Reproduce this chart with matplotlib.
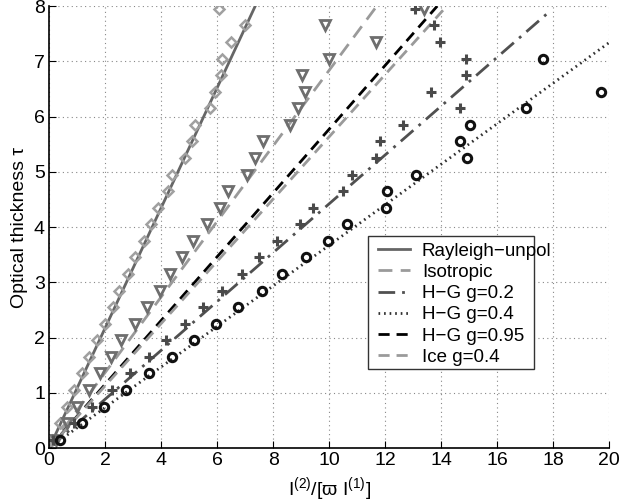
import numpy as np
from matplotlib import pyplot as plt
from matplotlib.patches import Rectangle

plt.rcParams['font.family'] = ['Liberation Sans', 'DejaVu Sans']
plt.rcParams['mathtext.default'] = 'regular'

# optical thickness values where markers were sampled
tau = [0.15, 0.45, 0.75, 1.05, 1.35, 1.65, 1.95, 2.25, 2.55, 2.85, 3.15, 3.45, 3.75,
       4.05, 4.35, 4.65, 4.95, 5.25, 5.55, 5.85, 6.15, 6.45, 6.75, 7.05, 7.35, 7.65, 7.95]

ray_x = [0.10, 0.37, 0.63, 0.90, 1.17, 1.44, 1.70, 2.00, 2.27, 2.51, 2.81, 3.07, 3.37,
         3.64, 3.88, 4.24, 4.40, 4.86, 5.10, 5.21, 5.75, 5.93, 6.13, 6.17, 6.49, 7.00, 6.08]
iso_x = [0.25, 0.62, 1.00, 1.42, 1.82, 2.22, 2.58, 3.07, 3.49, 3.96, 4.32, 4.76, 5.15,
         5.63, 6.11, 6.40, 7.06, 7.36, 7.65, 8.61, 8.88, 9.14, 9.02, 9.98, 11.68, 9.86, 13.39]
hg2_x = [0.15, 0.87, 1.52, 2.24, 2.89, 3.55, 4.17, 4.86, 5.51, 6.17, 6.88, 7.48, 8.13,
         8.96, 9.44, 10.51, 10.81, 11.68, 11.80, 12.65, 14.68, 13.64, 14.88, 14.88, 13.96, 13.76, 13.07]
# H-G g=0.4 circles (last few fall outside the plot)
tau_c = [0.15, 0.45, 0.75, 1.05, 1.35, 1.65, 1.95, 2.25, 2.55, 2.85, 3.15, 3.45, 3.75,
         4.05, 4.35, 4.65, 4.95, 5.25, 5.55, 5.85, 6.15, 6.45, 7.05]
hg4_x = [0.37, 1.17, 1.96, 2.75, 3.58, 4.40, 5.19, 5.96, 6.76, 7.60, 8.31, 9.18, 9.95,
         10.65, 12.04, 12.08, 13.10, 14.92, 14.68, 15.04, 17.04, 19.71, 17.62]

# fitted lines (x end, tau end), all from origin
fit_names = ['Rayleigh\u2212unpol', 'Isotropic', 'H\u2212G g=0.2', 'H\u2212G g=0.4', 'H\u2212G g=0.95', 'Ice g=0.4']
fit_xend = [7.36, 11.7, 17.8, 21.8, 13.86, 14.2]
fit_tend = [8.0, 8.0, 7.87, 8.0, 8.0, 8.0]

styles = [dict(color='#666666', ls='-'),
          dict(color='#9a9a9a', ls=(0, (5, 3))),
          dict(color='#505050', ls=(0, (6, 2.5, 1, 2.5))),
          dict(color='#303030', ls=(0, (0.6, 1.4))),
          dict(color='black', ls=(0, (4, 2.5))),
          dict(color='#9a9a9a', ls=(0, (4, 2.5)))]

fig = plt.figure(figsize=(6.3, 5.04), dpi=100)
ax = fig.add_axes([0.078, 0.111, 0.889, 0.877])

for name, xe, te, st in zip(fit_names, fit_xend, fit_tend, styles):
    ax.plot([0, xe], [0, te], lw=2, label=name, **st)

ax.plot(ray_x, tau, 'D', ms=5, mfc='none', mec='#a0a0a0', mew=1.8)
ax.plot(iso_x, tau, 'v', ms=6.5, mfc='none', mec='#6e6e6e', mew=2)
ax.plot(hg2_x, tau, '+', ms=7, mec='#4a4a4a', mew=2.2)
ax.plot(hg4_x, tau_c, 'o', ms=6, mfc='none', mec='#111111', mew=2.2)

ax.set_xlim(0, 20)
ax.set_ylim(0, 8)
ax.set_xticks(np.arange(0, 21, 2))
ax.set_yticks(np.arange(0, 9, 1))
ax.tick_params(direction='in', labelsize=14, length=5, top=False, right=False, pad=3)
ax.grid(True, ls=(0, (1, 3)), color='#888888', lw=0.8)
ax.spines['top'].set_visible(False)
ax.spines['right'].set_visible(False)
ax.spines['left'].set_linewidth(1.2)
ax.spines['bottom'].set_linewidth(1.2)

ax.set_xlabel('I$^{(2)}$/[\u03d6 I$^{(1)}$]', fontsize=14, labelpad=4)
ax.set_ylabel('Optical thickness \u03c4', fontsize=14, labelpad=4)

# MATLAB-style legend: the box is narrower than the longest label
box = Rectangle((0.570, 0.179), 0.296, 0.301, transform=ax.transAxes,
                facecolor='white', edgecolor='#333333', lw=1.0, zorder=4)
ax.add_patch(box)
leg = ax.legend(loc='upper left', bbox_to_anchor=(0.570, 0.486), fontsize=13.5,
                handlelength=1.7, labelspacing=0.22, borderpad=0.5, handletextpad=0.65,
                borderaxespad=0, frameon=False)
leg.set_zorder(5)

fig.savefig('out.png', dpi=100)
